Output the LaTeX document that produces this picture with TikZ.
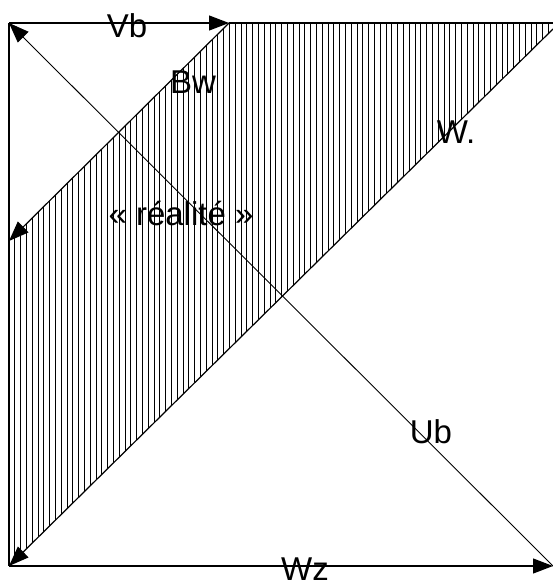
\documentclass[tikz,border=0pt]{standalone}
\usepackage{fontspec}
\setmainfont{Liberation Sans}
\usetikzlibrary{arrows.meta}
\begin{document}
\begin{tikzpicture}[x=1pt,y=-1pt,
  edge/.style={line width=1.2pt},
  axis/.style={line width=1.2pt,-{Triangle[length=20pt,width=15pt]}},
  thin axis/.style={line width=0.9pt,-{Triangle[length=20pt,width=15pt]}},
  hatch/.style={line width=0.8pt},
  lbl/.style={anchor=base,inner sep=0pt,font=\fontsize{33}{33}\selectfont}]
\useasboundingbox (0,0) rectangle (553,581);
\coordinate (TL) at (9,23);
\coordinate (TR) at (553,23);
\coordinate (BL) at (9,566);
\coordinate (BR) at (553,566);
\coordinate (P) at (229,23);
\coordinate (Q) at (9,241);
\coordinate (R) at (553,29);
\begin{scope}
  \clip (P) -- (TR) -- (R) -- (BL) -- (Q) -- cycle;
  \foreach \k in {0,...,95} \draw[hatch] ({9+5.8*\k},0) -- ({9+5.8*\k},581);
\end{scope}
\draw[edge] (TL) -- (BL);
\draw[edge] (P) -- (TR);
\draw[axis] (TL) -- (P);
\draw[axis] (P) -- (Q);
\draw[axis] (R) -- (BL);
\draw[axis] (BL) -- (BR);
\draw[thin axis] (BR) -- (TL);
\node[lbl] (vb) at (127,37) {Vb};
\node[lbl] (bw) at (193,93) {Bw};
\node[lbl] (w) at (456,143) {W.};
\node[lbl] (re) at (181,225) {« réalité »};
\node[lbl] (ub) at (431,443) {Ub};
\node[lbl] (wz) at (305,580) {Wz};
\end{tikzpicture}
\end{document}
